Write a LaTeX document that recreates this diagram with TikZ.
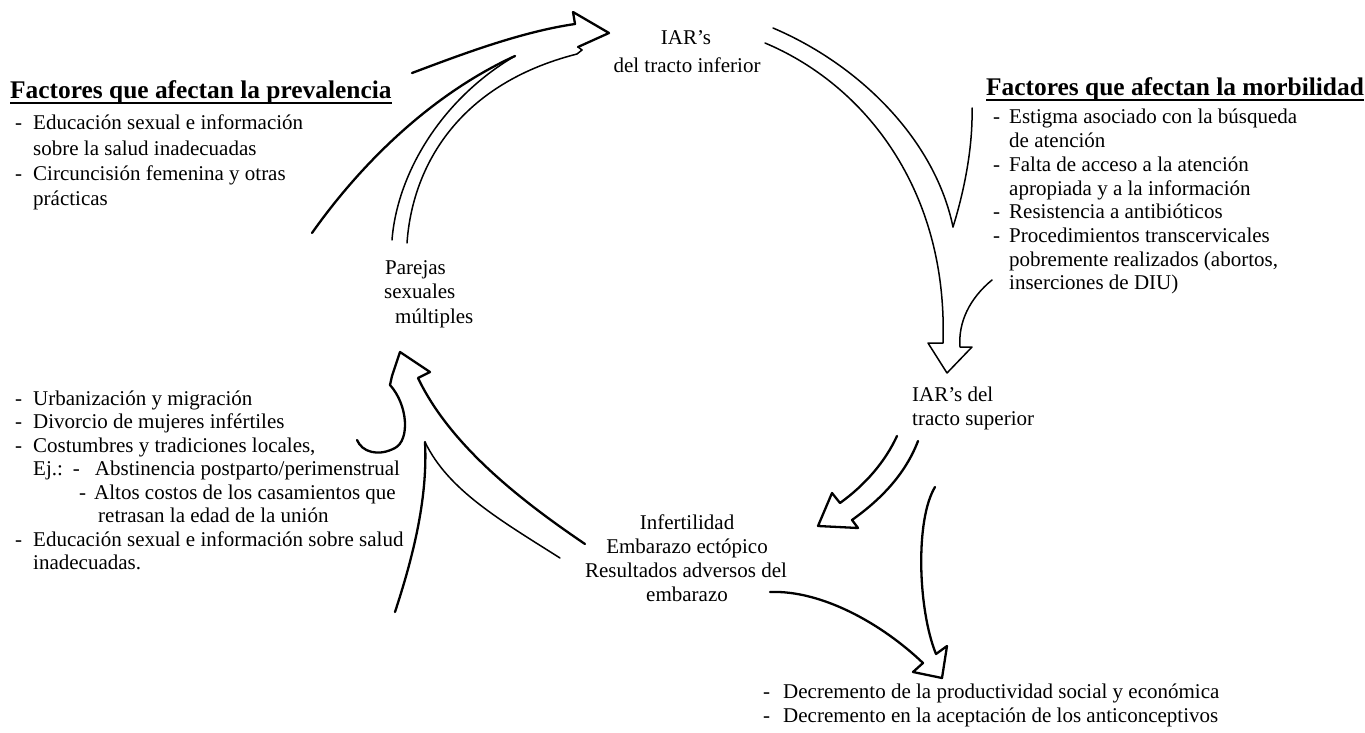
\documentclass[tikz,border=0pt]{standalone}
\usepackage{fontspec}
\setmainfont{Liberation Serif}
\begin{document}
\begin{tikzpicture}[x=1pt,y=-1pt,
  txt/.style={anchor=base west,inner sep=0pt,font=\fontsize{21}{24}\selectfont},
  ctxt/.style={anchor=base,inner sep=0pt,font=\fontsize{21}{24}\selectfont},
  head/.style={anchor=base west,inner sep=0pt,font=\fontsize{25.4}{28}\selectfont\bfseries},
  uline/.style={line width=1.8pt},
  ln/.style={line width=1.5pt,line join=round,line cap=round},
  lnb/.style={line width=2.3pt,line join=round,line cap=round}]
\useasboundingbox (0,0) rectangle (1365,733);
\newcommand{\dsh}{\makebox[18pt][l]{-}}

% ---- centre labels
\node[ctxt] (iar1a) at (686,45) {IAR’s};
\node[ctxt] (iar1b) at (687,73) {del tracto inferior};
\node[txt] (par1) at (385,274) {Parejas};
\node[txt] (par2) at (384,298) {sexuales};
\node[txt] (par3) at (395,323) {múltiples};
\node[txt] (iar2a) at (912,401) {IAR’s del};
\node[txt] (iar2b) at (912,425) {tracto superior};
\node[ctxt] (inf1) at (687,529) {Infertilidad};
\node[ctxt] (inf2) at (687,553) {Embarazo ectópico};
\node[ctxt] (inf3) at (686,577) {Resultados adversos del};
\node[ctxt] (inf4) at (687,601) {embarazo};

% ---- prevalence block
\node[head] (hp) at (10,99) {Factores que afectan la prevalencia};
\draw[uline] ([yshift=-4pt]hp.base west) -- ([yshift=-4pt]hp.base east);
\node[txt] (p1) at (15,130) {\dsh Educación sexual e información};
\node[txt] (p2) at (33,155) {sobre la salud inadecuadas};
\node[txt] (p3) at (15,180) {\dsh Circuncisión femenina y otras};
\node[txt] (p4) at (33,205) {prácticas};

% ---- morbidity block
\node[head] (hm) at (986,96) {Factores que afectan la morbilidad};
\draw[uline] ([yshift=-4pt]hm.base west) -- ([yshift=-4pt]hm.base east);
\node[txt] (m1) at (993,124) {\makebox[16pt][l]{-}Estigma asociado con la búsqueda};
\node[txt] (m2) at (1009,147.7) {de atención};
\node[txt] (m3) at (993,171.4) {\makebox[16pt][l]{-}Falta de acceso a la atención};
\node[txt] (m4) at (1009,195.1) {apropiada y a la información};
\node[txt] (m5) at (993,218.8) {\makebox[16pt][l]{-}Resistencia a antibióticos};
\node[txt] (m6) at (993,242.5) {\makebox[16pt][l]{-}Procedimientos transcervicales};
\node[txt] (m7) at (1009,266.2) {pobremente realizados (abortos,};
\node[txt] (m8) at (1009,289.9) {inserciones de DIU)};

% ---- lower left block
\node[txt] (l1) at (15,405) {\dsh Urbanización y migración};
\node[txt] (l2) at (15,428.5) {\dsh Divorcio de mujeres infértiles};
\node[txt] (l3) at (15,452) {\dsh Costumbres y tradiciones locales,};
\node[txt] (l4) at (33,475.5) {Ej.:\hspace{10pt}\makebox[22pt][l]{-}Abstinencia postparto/perimenstrual};
\node[txt] (l5) at (79,499) {\makebox[15pt][l]{-}Altos costos de los casamientos que};
\node[txt] (l6) at (98,522.5) {retrasan la edad de la unión};
\node[txt] (l7) at (15,546) {\dsh Educación sexual e información sobre salud};
\node[txt] (l8) at (33,569.5) {inadecuadas.};

% ---- bottom block
\node[txt] (b1) at (763,698) {\makebox[20pt][l]{-}Decremento de la productividad social y económica};
\node[txt] (b2) at (763,722) {\makebox[20pt][l]{-}Decremento en la aceptación de los anticonceptivos};

% ---- arrow A : Parejas -> IAR inferior
\draw[ln] (407,243) .. controls (412,170) and (455,85) .. (577,54) -- (582,50) -- (578,47);
\draw[lnb] (578,47) -- (609,33) -- (573,12) -- (575,24) .. controls (520,32) and (460,55) .. (412,73);
\draw[ln] (392,240) .. controls (397,175) and (440,100) .. (515,56);
\draw[lnb] (312,233) .. controls (360,165) and (430,95) .. (515,56);

% ---- arrow B : IAR inferior -> IAR superior
\draw[ln] (765,43) .. controls (865,85) and (948,190) .. (943,343) -- (928,343) -- (947,373) -- (972,347) -- (960,347) .. controls (958,322) and (970,298) .. (992,280);
\draw[ln] (773,28) .. controls (860,65) and (935,140) .. (953,227);
\draw[ln] (972,108) .. controls (973,150) and (963,195) .. (953,227);

% ---- arrow C : IAR superior -> Infertilidad
\draw[lnb] (897,436) .. controls (885,462) and (865,485) .. (840,503) -- (832,493) -- (818,526) -- (858,528) -- (852,520) .. controls (880,500) and (905,475) .. (918,441);

% ---- arrow D : to consequences
\draw[lnb] (770,592) .. controls (820,590) and (880,622) .. (923,663) -- (913,672) -- (942,678) -- (947,646) -- (936,654) .. controls (918,610) and (915,520) .. (935,487);

% ---- arrow E : Infertilidad -> Parejas
\draw[lnb] (585,544) .. controls (520,500) and (450,445) .. (418,378) -- (430,372) -- (400,352) -- (392,376) -- (390,385) .. controls (408,405) and (410,440) .. (395,448) .. controls (378,457) and (362,452) .. (357,440);
\draw[ln] (560,558) .. controls (500,520) and (448,490) .. (425,442);
\draw[lnb] (395,612) .. controls (412,560) and (428,500) .. (425,442);
\end{tikzpicture}
\end{document}
